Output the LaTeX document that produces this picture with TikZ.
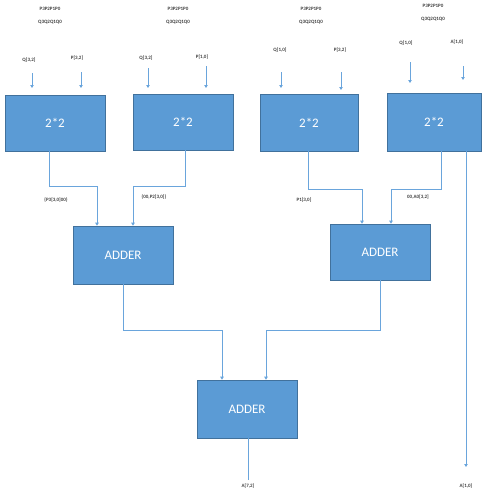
\documentclass[tikz,border=0pt]{standalone}
\usepackage{fontspec}
\setmainfont{Carlito}
\usetikzlibrary{arrows.meta}
\definecolor{boxfill}{HTML}{5B9BD5}
\definecolor{boxedge}{HTML}{41719C}
\definecolor{wire}{HTML}{6AA5DC}
\begin{document}
\begin{tikzpicture}[x=1pt,y=-1pt,
  block/.style={draw=boxedge,fill=boxfill,line width=0.6pt,text=white,font=\fontsize{13}{15}\selectfont},
  wireline/.style={draw=wire,line width=0.8pt},
  wirearrow/.style={wireline,-{Triangle[width=3.5pt,length=3pt]}},
  tiny/.style={font=\fontsize{5}{6}\selectfont\bfseries,inner sep=0pt,text=black!75}]
\useasboundingbox (0,0) rectangle (483,490);
% multiplier blocks
\node[block,minimum width=100pt,minimum height=56pt] (m1) at (55,123) {2*2};
\node[block,minimum width=100pt,minimum height=56pt] (m2) at (183,122) {2*2};
\node[block,minimum width=98pt,minimum height=57pt] (m3) at (309,122.5) {2*2};
\node[block,minimum width=94pt,minimum height=58pt] (m4) at (434,122) {2*2};
% adders
\node[block,minimum width=100pt,minimum height=58pt] (a1) at (123,255) {ADDER};
\node[block,minimum width=100pt,minimum height=56pt] (a2) at (380,252) {ADDER};
\node[block,minimum width=100pt,minimum height=58pt] (a3) at (247,409) {ADDER};
% operand headers
\foreach \x/\y/\n in {50/9/h1,178/9/h2,311/9/h3,433/6/h4}{
  \node[tiny] (\n p) at (\x,\y) {P3P2P1P0};
  \node[tiny] (\n q) at (\x,\y+13) {Q3Q2Q1Q0};
}
% input labels and arrows
\node[tiny] (l1q) at (29,60) {Q[3,2]};
\node[tiny] (l1p) at (77,58) {P[3,2]};
\node[tiny] (l2q) at (146,58) {Q[3,2]};
\node[tiny] (l2p) at (202,57) {P[1,0]};
\node[tiny] (l3q) at (280,50) {Q[1,0]};
\node[tiny] (l3p) at (340,50) {P[3,2]};
\node[tiny] (l4q) at (406,43) {Q[1,0]};
\node[tiny] (l4a) at (457,42) {A[1,0]};
\coordinate (i1q) at (32,73);  \coordinate (i1p) at (81,72);
\coordinate (i2q) at (148,68); \coordinate (i2p) at (206,66);
\coordinate (i3q) at (281,72); \coordinate (i3p) at (341,72);
\coordinate (i4q) at (410,62); \coordinate (i4a) at (463,66);
\draw[wirearrow] (i1q) -- (32,88);
\draw[wirearrow] (i1p) -- (81,88);
\draw[wirearrow] (i2q) -- (148,88);
\draw[wirearrow] (i2p) -- (206,88);
\draw[wirearrow] (i3q) -- (281,88);
\draw[wirearrow] (i3p) -- (341,90);
\draw[wirearrow] (i4q) -- (410,83);
\draw[wirearrow] (i4a) -- (463,80);
% partial products into the first adder stage
\draw[wirearrow] (m1.south -| 49,0) |- (97,186) -- (a1.north -| 97,0);
\draw[wirearrow] (m2.south -| 185,0) |- (133,186) -- (a1.north -| 133,0);
\draw[wirearrow] (m3.south -| 308,0) |- (362,189) -- (a2.north -| 362,0);
\draw[wirearrow] (m4.south -| 441,0) |- (391,189) -- (a2.north -| 391,0);
\node[tiny] (s1) at (56,200) {\{P3[3,0]00\}};
\node[tiny] (s2) at (154,197) {\{00,P2[3,0]\}};
\node[tiny] (s3) at (304,200) {P1[3,0]};
\node[tiny] (s4) at (418,197) {00,A0[3,2]};
% low bits pass straight through
\coordinate (o2) at (466,467);
\draw[wirearrow] (m4.south -| 466,0) -- (o2);
\node[tiny] (ol) at (466,486) {A[1,0]};
% second adder stage
\draw[wirearrow] (a1.south) |- (222,330) -- (a3.north -| 222,0);
\draw[wirearrow] (a2.south) |- (266,330) -- (a3.north -| 266,0);
\coordinate (o1) at (248,480);
\draw[wireline] (a3.south -| 248,0) -- (o1);
\node[tiny] (oh) at (248,486) {A[7,2]};
\end{tikzpicture}
\end{document}
